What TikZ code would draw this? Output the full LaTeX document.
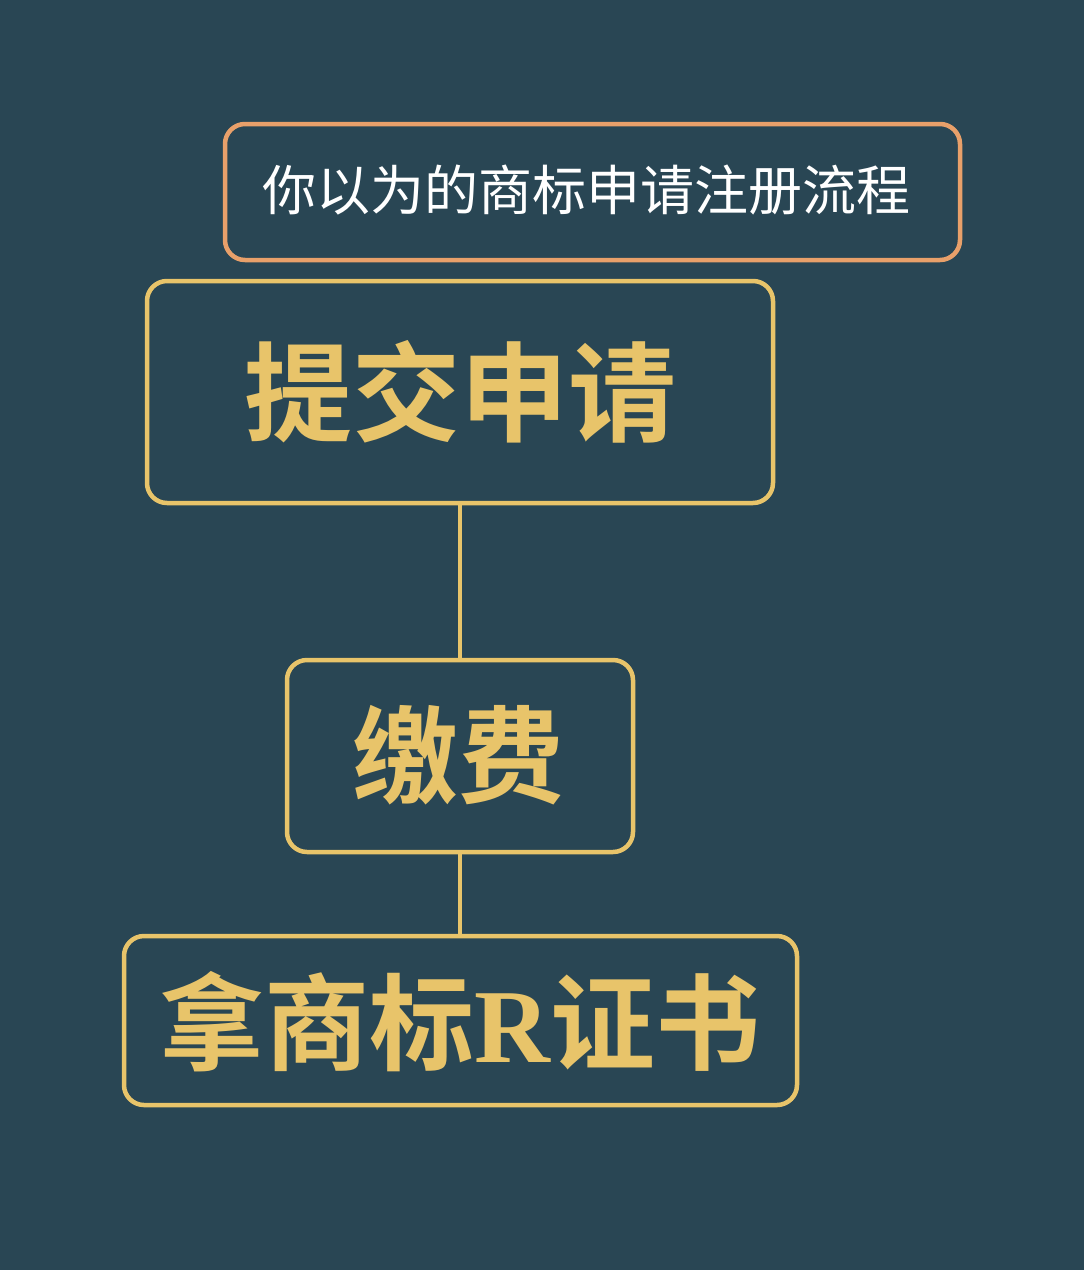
\documentclass[tikz,border=0pt]{standalone}
\usepackage{fontspec}
\newfontfamily\cjk{Noto Sans CJK SC}
\newfontfamily\cjkb{Noto Sans CJK SC Bold}
\newfontfamily\serifb{Liberation Serif Bold}
\definecolor{bg}{HTML}{294654}
\definecolor{gold}{HTML}{E8C46A}
\definecolor{peach}{HTML}{E8A06A}
\tikzset{
  goldbox/.style={draw=gold, line width=4.5pt, rounded corners=20pt},
  conn/.style={draw=gold, line width=4.5pt},
}
\begin{document}
\begin{tikzpicture}[x=1pt,y=-1pt]
\fill[bg] (0,0) rectangle (1084,1270);
\useasboundingbox (0,0) rectangle (1084,1270);
% title
\draw[peach, line width=4.5pt, rounded corners=20pt] (225,124) rectangle (960,260);
\node[text=white, font=\cjk\fontsize{54}{60}\selectfont] (title) at (586,190) {你以为的商标申请注册流程};
% box 1
\draw[goldbox] (147,281) rectangle (773,503);
\coordinate (b1top) at (460,281);
\coordinate (b1bot) at (460,503);
\node[text=gold, font=\cjkb\fontsize{108}{120}\selectfont] (t1) at (460,392) {提交申请};
% box 2
\draw[goldbox] (287,660) rectangle (633,852);
\coordinate (b2top) at (460,660);
\coordinate (b2bot) at (460,852);
\node[text=gold, font=\cjkb\fontsize{106}{120}\selectfont] (t2) at (458,755) {缴费};
% box 3
\draw[goldbox] (124,936) rectangle (797,1105);
\coordinate (b3top) at (460,936);
\node[text=gold, font=\cjkb\fontsize{105}{120}\selectfont] (t3) at (460,1022) {拿商标{\serifb\fontsize{105}{120}\selectfont R}证书};
% connectors
\draw[conn] (b1bot) -- (b2top);
\draw[conn] (b2bot) -- (b3top);
\end{tikzpicture}
\end{document}
